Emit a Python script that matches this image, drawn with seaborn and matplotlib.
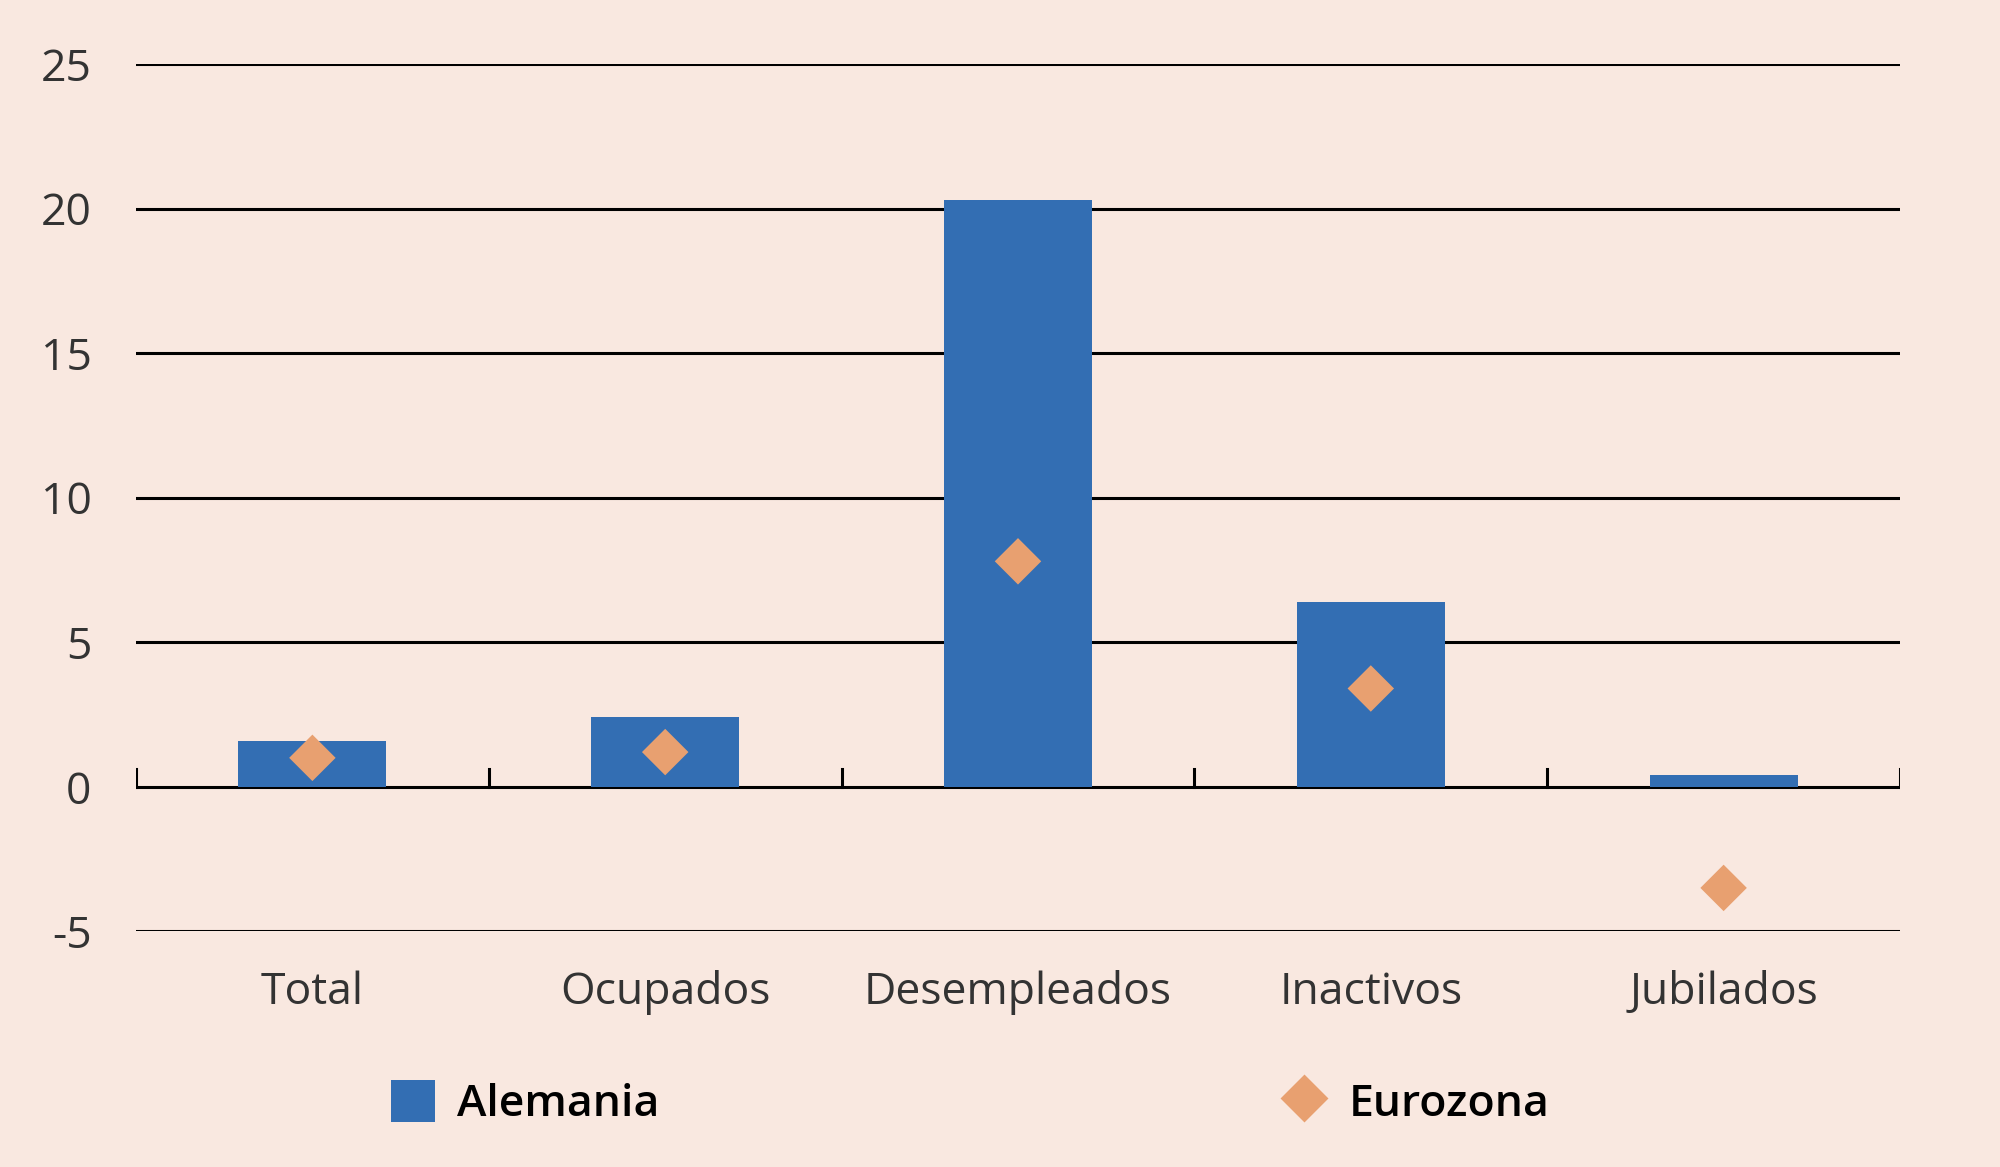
import matplotlib
matplotlib.use("Agg")
import matplotlib.pyplot as plt
import seaborn as sns
import pandas as pd
import numpy as np
from matplotlib.lines import Line2D
from matplotlib.patches import Patch

categories = ["Total", "Ocupados", "Desempleados", "Inactivos", "Jubilados"]
alemania = [1.6, 2.4, 20.3, 6.4, 0.4]
eurozona = [1.0, 1.2, 7.8, 3.4, -3.5]
yticks = [-5, 0, 5, 10, 15, 20, 25]

bg = "#F9E8E0"
blue = "#336EB3"
orange = "#E8A070"
plt.rcParams["font.family"] = "Open Sans"

df = pd.DataFrame({"cat": categories, "Alemania": alemania, "Eurozona": eurozona})

fig = plt.figure(figsize=(10, 5.835), dpi=200, facecolor=bg)
ax = fig.add_axes([0.068, 0.202, 0.882, 0.743], facecolor=bg)

for y in yticks:
    ax.axhline(y, color="black", lw=1.1, zorder=0)

sns.barplot(data=df, x="cat", y="Alemania", color=blue, width=0.42, ax=ax,
            saturation=1, zorder=2)
sns.scatterplot(data=df, x="cat", y="Eurozona", marker="D", s=140, color=orange,
                edgecolor="none", ax=ax, zorder=3)

n = len(categories)
ax.set_xlim(-0.5, n - 0.5)
ax.set_ylim(-5, 25)
for b in np.arange(-0.5, n, 1.0):
    ax.plot([b, b], [0, 0.6], color="black", lw=1.1, zorder=4)

ax.set_yticks(yticks)
ax.set_yticklabels([str(t) for t in yticks])
ax.tick_params(axis="both", length=0, labelsize=16, colors="#333333")
ax.tick_params(axis="x", pad=14)
ax.tick_params(axis="y", pad=16)
ax.set_xlabel("")
ax.set_ylabel("")
for s in ax.spines.values():
    s.set_visible(False)

handles = [Patch(facecolor=blue, label="Alemania"),
           Line2D([], [], marker="D", ls="none", color=orange, markersize=11, label="Eurozona")]
leg = fig.legend(handles=handles, loc="center", bbox_to_anchor=(0.485, 0.055), ncol=2,
                 frameon=False, columnspacing=14, handletextpad=0.5, handlelength=1.0,
                 handleheight=1.1, prop={"size": 16, "weight": "semibold"})
plt.savefig("out.png", facecolor=bg)
